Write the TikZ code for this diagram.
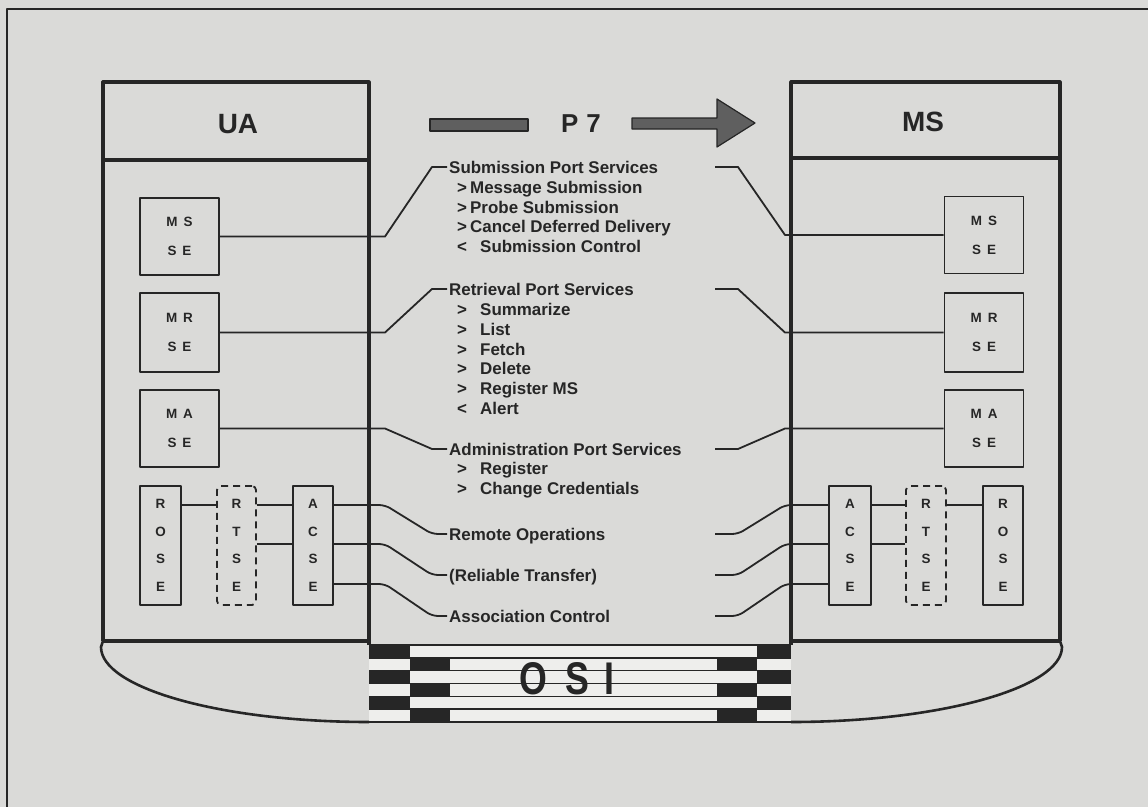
\documentclass[tikz,border=0pt]{standalone}
\usepackage{fontspec}
\setmainfont{Liberation Sans}
\newfontfamily\osifont[FakeStretch=0.78]{Liberation Sans}
\usetikzlibrary{calc}
\definecolor{bg}{RGB}{218,218,216}
\definecolor{ink}{RGB}{38,38,38}
\definecolor{barfill}{RGB}{238,238,236}
\definecolor{arrowfill}{RGB}{95,95,95}
\begin{document}
\begin{tikzpicture}[x=1bp,y=-1bp,line join=round,
  every node/.style={inner sep=0pt,text=ink},
  big/.style={draw=ink,line width=3.2bp},
  sebox/.style={draw=ink,line width=1.8bp,minimum width=79bp,minimum height=77bp,align=center,font=\fontsize{13.5}{29}\selectfont\bfseries},
  stackbox/.style={draw=ink,line width=1.8bp,minimum width=40bp,minimum height=119bp,align=center,font=\fontsize{13.5}{27.7}\selectfont\bfseries},
  rtsebox/.style={stackbox,dashed,dash pattern=on 7bp off 5bp,rounded corners=4bp},
  conn/.style={draw=ink,line width=1.8bp},
  soft/.style={conn,rounded corners=6bp},
  title/.style={anchor=west,font=\fontsize{17}{20}\selectfont\bfseries,text height=12.2bp,text depth=0bp},
  item/.style={title},
  head/.style={font=\fontsize{28}{30}\selectfont\bfseries,text height=20bp,text depth=0bp},
  arrowst/.style={fill=arrowfill,draw=ink,line width=1.2bp}
  ]
\fill[bg] (0,0) rectangle (1148,807);
\useasboundingbox (0,0) rectangle (1148,807);
% outer frame
\draw[ink,line width=2.6bp] (7,830) -- (7,9) -- (1170,9);

% OSI bars
\fill[barfill] (369,645) rectangle (791,722);
\foreach \i in {0,2,4}{
  \fill[ink] (369,{645+\i*12.833}) rectangle (410,{645+(\i+1)*12.833});
  \fill[ink] (757,{645+\i*12.833}) rectangle (791,{645+(\i+1)*12.833});
}
\foreach \i in {1,3,5}{
  \fill[ink] (410,{645+\i*12.833}) rectangle (450,{645+(\i+1)*12.833});
  \fill[ink] (717,{645+\i*12.833}) rectangle (757,{645+(\i+1)*12.833});
}
\foreach \i in {0,...,6}
  \draw[ink,line width=1.6bp] (369,{645+\i*12.833}) -- (791,{645+\i*12.833});
\node[font=\osifont\bfseries\fontsize{46}{46}\selectfont,text height=33bp,text depth=0bp] (osi) at (567,678) {O\hspace{18bp}S\hspace{15bp}I};

% boat curves
\draw[ink,line width=2.6bp] (103,641) -- (101,647) .. controls (101,688) and (221,722) .. (369,722);
\draw[ink,line width=2.6bp] (1060,641) -- (1062,647) .. controls (1062,688) and (939,722) .. (791,722);

% big boxes
\draw[big] (103,641) -- (103,82) -- (369,82) -- (369,645);
\draw[big] (103,641) -- (369,641);
\draw[big] (103,160) -- (369,160);
\draw[big] (791,645) -- (791,82) -- (1060,82) -- (1060,641);
\draw[big] (791,641) -- (1060,641);
\draw[big] (791,158) -- (1060,158);

\node[head] (ua) at (238,123) {UA};
\node[head] (ms) at (923,121) {MS};
\node[head,font=\fontsize{26}{28}\selectfont\bfseries,text height=18.6bp] (p7) at (581,123) {P\hspace{8bp}7};

% P7 arrow
\draw[arrowst] (430,119) rectangle (528,131);
\draw[arrowst] (632,118) -- (717,118) -- (717,99) -- (755,123) -- (717,147) -- (717,129) -- (632,129) -- cycle;

% left side boxes
\node[sebox] (msL) at (179.5,236.5) {M\hspace{6bp}S\\S\hspace{6bp}E};
\node[sebox,minimum height=79bp] (mrL) at (179.5,332.5) {M\hspace{6bp}R\\S\hspace{6bp}E};
\node[sebox] (maL) at (179.5,428.5) {M\hspace{6bp}A\\S\hspace{6bp}E};
\node[stackbox,minimum width=41bp] (roseL) at (160.5,545.5) {R\\O\\S\\E};
\node[rtsebox,minimum width=39bp] (rtseL) at (236.5,545.5) {R\\T\\S\\E};
\node[stackbox] (acseL) at (313,545.5) {A\\C\\S\\E};

% right side boxes
\node[sebox] (msR) at (984,235) {M\hspace{6bp}S\\S\hspace{6bp}E};
\node[sebox,minimum height=79bp] (mrR) at (984,332.5) {M\hspace{6bp}R\\S\hspace{6bp}E};
\node[sebox] (maR) at (984,428.5) {M\hspace{6bp}A\\S\hspace{6bp}E};
\node[stackbox,minimum width=42bp] (acseR) at (850,545.5) {A\\C\\S\\E};
\node[rtsebox] (rtseR) at (926,545.5) {R\\T\\S\\E};
\node[stackbox] (roseR) at (1003,545.5) {R\\O\\S\\E};

% middle texts
\node[title] (subT) at (449,167) {Submission Port Services};
\foreach \m/\t/\y [count=\i] in {>/Message Submission/187,>/Probe Submission/207,>/Cancel Deferred Delivery/226}
  \node[item] (subI\i) at (457,\y) {\makebox[13bp][l]{\m}\t};
\node[item] (subI4) at (457,246) {\makebox[23bp][l]{<}Submission Control};

\node[title] (retT) at (449,289) {Retrieval Port Services};
\foreach \m/\t/\y [count=\i] in {>/Summarize/309,>/List/329,>/Fetch/349,>/Delete/368,>/Register MS/388,</Alert/408}
  \node[item] (retI\i) at (457,\y) {\makebox[23bp][l]{\m}\t};

\node[title] (admT) at (449,449) {Administration Port Services};
\foreach \m/\t/\y [count=\i] in {>/Register/468,>/Change Credentials/488}
  \node[item] (admI\i) at (457,\y) {\makebox[23bp][l]{\m}\t};

\node[title] (remT) at (449,534) {Remote Operations};
\node[title] (relT) at (449,575) {(Reliable Transfer)};
\node[title] (assT) at (449,616) {Association Control};

% helper columns
\coordinate (kL1) at (385,0);
\coordinate (kL2) at (432,0);
\coordinate (kR1) at (785,0);
\coordinate (kR2) at (738,0);
\coordinate (rEnd) at (715,0);
\coordinate (yA) at (0,505);
\coordinate (yB) at (0,544);
\coordinate (yC) at (0,584);

% upper connectors
\draw[conn] (msL.east) -- (kL1 |- msL.east) -- (kL2 |- subT.west) -- ([xshift=-2bp]subT.west);
\draw[conn] (mrL.east) -- (kL1 |- mrL.east) -- (kL2 |- retT.west) -- ([xshift=-2bp]retT.west);
\draw[conn] (maL.east) -- (kL1 |- maL.east) -- (kL2 |- admT.west) -- ([xshift=-2bp]admT.west);
\draw[conn] (msR.west) -- (kR1 |- msR.west) -- (kR2 |- subT.west) -- (rEnd |- subT.west);
\draw[conn] (mrR.west) -- (kR1 |- mrR.west) -- (kR2 |- retT.west) -- (rEnd |- retT.west);
\draw[conn] (maR.west) -- (kR1 |- maR.west) -- (kR2 |- admT.west) -- (rEnd |- admT.west);

% lower connectors, left
\draw[conn] (roseL.east |- yA) -- (rtseL.west |- yA);
\draw[conn] (rtseL.east |- yA) -- (acseL.west |- yA);
\draw[conn] (rtseL.east |- yB) -- (acseL.west |- yB);
\draw[soft] (acseL.east |- yA) -- (kL1 |- yA) -- (kL2 |- remT.west) -- ([xshift=-2bp]remT.west);
\draw[soft] (acseL.east |- yB) -- (kL1 |- yB) -- (kL2 |- relT.west) -- ([xshift=-2bp]relT.west);
\draw[soft] (acseL.east |- yC) -- (kL1 |- yC) -- (kL2 |- assT.west) -- ([xshift=-2bp]assT.west);

% lower connectors, right
\draw[conn] (acseR.east |- yA) -- (rtseR.west |- yA);
\draw[conn] (acseR.east |- yB) -- (rtseR.west |- yB);
\draw[conn] (rtseR.east |- yA) -- (roseR.west |- yA);
\draw[soft] (acseR.west |- yA) -- (kR1 |- yA) -- (kR2 |- remT.west) -- (rEnd |- remT.west);
\draw[soft] (acseR.west |- yB) -- (kR1 |- yB) -- (kR2 |- relT.west) -- (rEnd |- relT.west);
\draw[soft] (acseR.west |- yC) -- (kR1 |- yC) -- (kR2 |- assT.west) -- (rEnd |- assT.west);
\end{tikzpicture}
\end{document}
